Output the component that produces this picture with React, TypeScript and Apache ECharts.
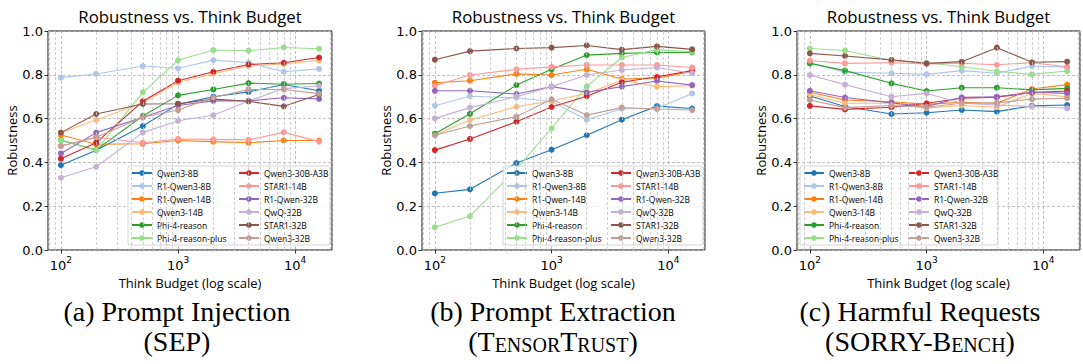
import React, { useEffect, useRef } from "react";
import * as echarts from "echarts";

const BUDGETS = [100, 200, 500, 1000, 2000, 4000, 8000, 16000];

const MODELS = [
  "Qwen3-8B",
  "R1-Qwen3-8B",
  "R1-Qwen-14B",
  "Qwen3-14B",
  "Phi-4-reason",
  "Phi-4-reason-plus",
  "Qwen3-30B-A3B",
  "STAR1-14B",
  "R1-Qwen-32B",
  "QwQ-32B",
  "STAR1-32B",
  "Qwen3-32B",
];

const COLORS = [
  "#1f77b4", "#aec7e8", "#ff7f0e", "#ffbb78", "#2ca02c", "#98df8a",
  "#d62728", "#ff9896", "#9467bd", "#c5b0d5", "#8c564b", "#c49c94",
];

// (a) Prompt Injection (SEP)
const SEP = [
  [0.387, 0.455, 0.566, 0.665, 0.70, 0.722, 0.756, 0.727],
  [0.787, 0.804, 0.84, 0.83, 0.867, 0.855, 0.814, 0.827],
  [0.525, 0.483, 0.485, 0.50, 0.495, 0.49, 0.50, 0.50],
  [0.535, 0.594, 0.672, 0.765, 0.805, 0.84, 0.85, 0.865],
  [0.502, 0.457, 0.612, 0.706, 0.733, 0.762, 0.757, 0.76],
  [0.50, 0.455, 0.72, 0.866, 0.913, 0.91, 0.925, 0.919],
  [0.417, 0.49, 0.679, 0.773, 0.814, 0.847, 0.855, 0.879],
  [0.475, 0.515, 0.49, 0.507, 0.505, 0.503, 0.537, 0.495],
  [0.441, 0.536, 0.606, 0.66, 0.681, 0.681, 0.695, 0.69],
  [0.33, 0.38, 0.536, 0.59, 0.615, 0.68, 0.737, 0.75],
  [0.536, 0.621, 0.667, 0.668, 0.689, 0.679, 0.656, 0.71],
  [0.475, 0.515, 0.606, 0.639, 0.696, 0.733, 0.733, 0.714],
];

// (b) Prompt Extraction (TensorTrust)
const TENSORTRUST = [
  [0.259, 0.277, 0.397, 0.458, 0.524, 0.595, 0.657, 0.646],
  [0.659, 0.702, 0.695, 0.678, 0.595, 0.645, 0.646, 0.715],
  [0.764, 0.773, 0.804, 0.799, 0.825, 0.781, 0.785, 0.815],
  [0.525, 0.594, 0.654, 0.68, 0.715, 0.775, 0.746, 0.75],
  [0.531, 0.622, 0.753, 0.825, 0.89, 0.898, 0.902, 0.902],
  [0.104, 0.155, 0.37, 0.556, 0.747, 0.879, 0.915, 0.905],
  [0.456, 0.507, 0.586, 0.653, 0.702, 0.766, 0.791, 0.819],
  [0.75, 0.799, 0.825, 0.836, 0.845, 0.845, 0.845, 0.833],
  [0.727, 0.727, 0.712, 0.746, 0.72, 0.746, 0.772, 0.753],
  [0.601, 0.65, 0.70, 0.746, 0.799, 0.822, 0.833, 0.807],
  [0.869, 0.908, 0.92, 0.924, 0.934, 0.915, 0.93, 0.916],
  [0.524, 0.566, 0.609, 0.688, 0.616, 0.65, 0.644, 0.639],
];

// (c) Harmful Requests (Sorry-Bench)
const SORRYBENCH = [
  [0.703, 0.655, 0.621, 0.627, 0.639, 0.632, 0.658, 0.662],
  [0.855, 0.812, 0.807, 0.802, 0.819, 0.807, 0.84, 0.835],
  [0.72, 0.685, 0.677, 0.665, 0.675, 0.67, 0.735, 0.755],
  [0.71, 0.67, 0.67, 0.648, 0.66, 0.652, 0.715, 0.70],
  [0.852, 0.819, 0.761, 0.726, 0.741, 0.741, 0.731, 0.738],
  [0.92, 0.911, 0.865, 0.855, 0.837, 0.816, 0.802, 0.817],
  [0.658, 0.642, 0.652, 0.67, 0.693, 0.698, 0.719, 0.726],
  [0.865, 0.852, 0.855, 0.85, 0.853, 0.846, 0.855, 0.837],
  [0.727, 0.696, 0.672, 0.655, 0.697, 0.70, 0.721, 0.715],
  [0.799, 0.755, 0.70, 0.715, 0.67, 0.662, 0.655, 0.647],
  [0.898, 0.886, 0.868, 0.852, 0.86, 0.924, 0.857, 0.86],
  [0.685, 0.65, 0.66, 0.652, 0.67, 0.672, 0.689, 0.693],
];

const MINOR_TICKS = [
  80, 90, 200, 300, 400, 500, 600, 700, 800, 900,
  2000, 3000, 4000, 5000, 6000, 7000, 8000, 9000, 20000,
];

const TITLE = "Robustness vs. Think Budget";
const X_NAME = "Think Budget (log scale)";
const Y_NAME = "Robustness";

const COMIC = "'Comic Sans MS', 'Open Sans', sans-serif";
const DJV = "'DejaVu Sans', sans-serif";
const SERIF = "'Liberation Serif', serif";

const PANELS = [
  { data: SEP, left: 48, width: 284, legendLeft: 131, legendGap: 107, box: [128, 166, 202, 79], cap: 177 },
  { data: TENSORTRUST, left: 422, width: 283, legendLeft: 506, legendGap: 104, box: [503, 166, 200, 79], cap: 553 },
  { data: SORRYBENCH, left: 797, width: 283, legendLeft: 803, legendGap: 105, box: [800, 166, 198, 79], cap: 920 },
];

const GRID_TOP = 31;
const GRID_H = 219;
const X_MIN = 77.6;
const X_MAX = 20620;

export default function App() {
  const ref = useRef<HTMLDivElement>(null);

  useEffect(() => {
    if (!ref.current) return;
    const chart = echarts.init(ref.current, null, { renderer: "svg" });

    const grids: any[] = [];
    const xAxes: any[] = [];
    const yAxes: any[] = [];
    const series: any[] = [];
    const titles: any[] = [];
    const legends: any[] = [];
    const graphics: any[] = [];

    PANELS.forEach((p, pi) => {
      grids.push({
        left: p.left,
        top: GRID_TOP,
        width: p.width,
        height: GRID_H,
        show: true,
        borderColor: "#111",
        borderWidth: 1,
        backgroundColor: "transparent",
      });
      xAxes.push({
        type: "log",
        logBase: 10,
        gridIndex: pi,
        min: X_MIN,
        max: X_MAX,
        name: X_NAME,
        nameLocation: "middle",
        nameGap: 20,
        nameTextStyle: { fontFamily: COMIC, fontSize: 13, color: "#000" },
        axisLine: { show: false },
        axisTick: { show: true, length: 3.5, lineStyle: { color: "#000", width: 0.8 } },
        axisLabel: {
          showMinLabel: false,
          showMaxLabel: false,
          margin: 5,
          formatter: (v: number) => "{b|10}{s|" + Math.round(Math.log10(v)) + "}",
          rich: {
            b: { fontFamily: DJV, fontSize: 13, color: "#000", verticalAlign: "bottom", lineHeight: 17 },
            s: { fontFamily: DJV, fontSize: 9, color: "#000", verticalAlign: "top", lineHeight: 17 },
          },
        },
        splitLine: { show: true, lineStyle: { type: [3, 2], color: "#b0b0b0", width: 0.8 } },
      });
      yAxes.push({
        type: "value",
        gridIndex: pi,
        min: 0,
        max: 1,
        interval: 0.2,
        name: Y_NAME,
        nameLocation: "middle",
        nameGap: 28,
        nameTextStyle: { fontFamily: COMIC, fontSize: 13, color: "#000" },
        axisLine: { show: false },
        axisTick: { show: true, length: 3.5, lineStyle: { color: "#000", width: 0.8 } },
        axisLabel: {
          margin: 5,
          fontFamily: DJV,
          fontSize: 13,
          color: "#000",
          formatter: (v: number) => v.toFixed(1),
        },
        splitLine: { show: true, lineStyle: { type: [3, 2], color: "#b0b0b0", width: 0.8 } },
      });
      series.push({
        type: "line",
        xAxisIndex: pi,
        yAxisIndex: pi,
        data: [],
        silent: true,
        z: 1,
        markLine: {
          silent: true,
          symbol: ["none", "none"],
          label: { show: false },
          lineStyle: { type: [3, 2], color: "#c4c4c4", width: 0.8 },
          data: MINOR_TICKS.map((v) => ({ xAxis: v })),
        },
      });
      p.data.forEach((vals, i) => {
        series.push({
          type: "line",
          name: MODELS[i],
          xAxisIndex: pi,
          yAxisIndex: pi,
          data: BUDGETS.map((b, j) => [b, vals[j]]),
          symbol: "circle",
          symbolSize: 6,
          showSymbol: true,
          lineStyle: { width: 1.1, color: COLORS[i] },
          itemStyle: { color: COLORS[i] },
          z: 2,
        });
      });
      titles.push({
        text: TITLE,
        left: p.left + p.width / 2,
        top: 8,
        textAlign: "center",
        padding: 0,
        textStyle: { fontFamily: COMIC, fontSize: 16.8, fontWeight: "normal", color: "#000" },
      });
      [0, 1].forEach((c) => {
        legends.push({
          data: MODELS.slice(c * 6, c * 6 + 6),
          orient: "vertical",
          left: p.legendLeft + c * p.legendGap,
          top: 167,
          padding: 0,
          itemGap: 1,
          itemWidth: 20,
          itemHeight: 7,
          selectedMode: false,
          z: 5,
          textStyle: { fontFamily: COMIC, fontSize: 8.5, color: "#000", lineHeight: 12 },
        });
      });
      graphics.push({
        type: "rect",
        shape: { x: p.box[0], y: p.box[1], width: p.box[2], height: p.box[3], r: 2 },
        style: { fill: "rgba(255,255,255,0.8)", stroke: "#cccccc", lineWidth: 0.8 },
        z: 4,
        silent: true,
      });
    });

    const capLines = [
      ["{n|(a) Prompt Injection}", "{n|(SEP)}"],
      ["{n|(b) Prompt Extraction}", "{n|(T}{s|ENSOR}{n|T}{s|RUST}{n|)}"],
      ["{n|(c) Harmful Requests}", "{n|(SORRY-B}{s|ENCH}{n|)}"],
    ];
    const capRich = {
      n: { fontFamily: SERIF, fontSize: 28, color: "#000", verticalAlign: "bottom", lineHeight: 32 },
      s: { fontFamily: SERIF, fontSize: 20, color: "#000", verticalAlign: "bottom", lineHeight: 26.6 },
    };
    PANELS.forEach((p, pi) => {
      capLines[pi].forEach((t, li) => {
        graphics.push({
          type: "text",
          x: p.cap,
          y: 309 + li * 30,
          z: 10,
          style: {
            text: t,
            rich: capRich,
            textAlign: "center",
            textVerticalAlign: "middle",
          },
        });
      });
    });

    chart.setOption({
      animation: false,
      backgroundColor: "#fff",
      title: titles,
      grid: grids,
      xAxis: xAxes,
      yAxis: yAxes,
      legend: legends,
      series,
      graphic: graphics,
    });

    return () => chart.dispose();
  }, []);

  return (
    <div
      ref={ref}
      style={{ position: "absolute", left: 0, top: 0, width: 1083, height: 364 }}
    />
  );
}
